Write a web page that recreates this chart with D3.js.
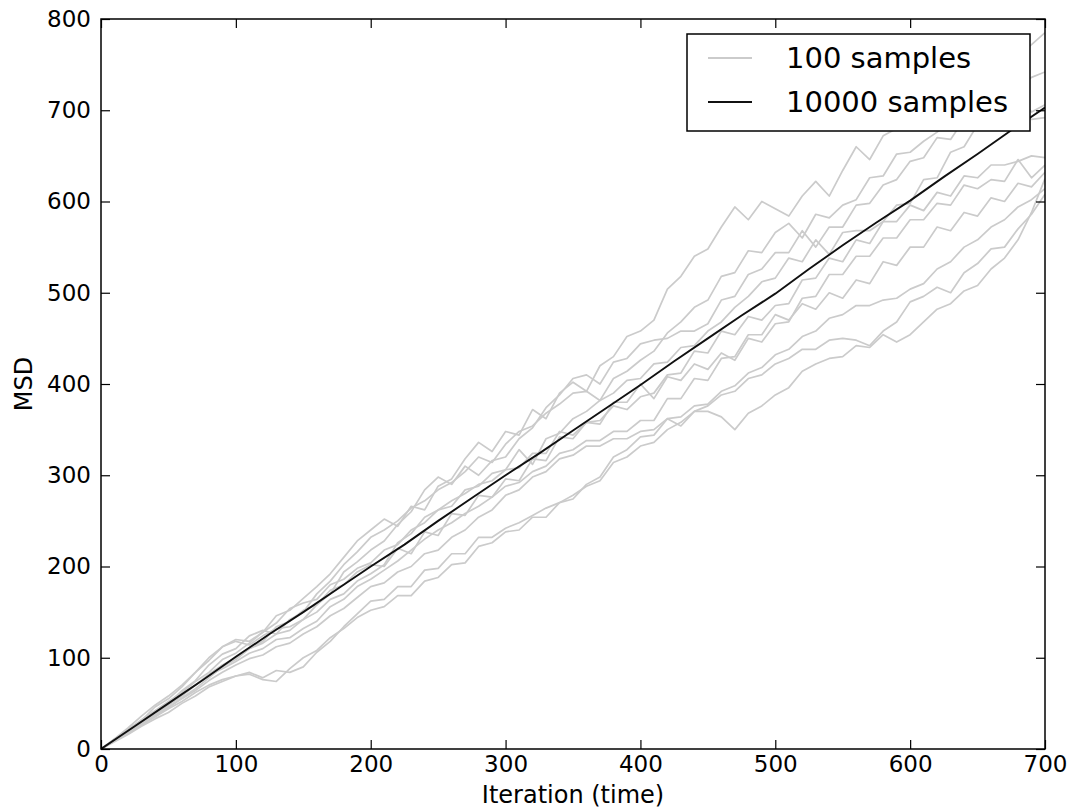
<!DOCTYPE html>
<html lang="en">
<head>
  <meta charset="UTF-8">
  <title>MSD vs iteration</title>
  <script src="https://d3js.org/d3.v7.min.js"></script>
  <style>
    body {
      margin: 0;
      background: #fff;
    }
    svg {
      display: block;
      font-family: "DejaVu Sans", sans-serif;
    }
  </style>
</head>
<body>
  <script>
    const width = 1070;
    const height = 810;

    // tick labels
    const xTicks = [0, 100, 200, 300, 400, 500, 600, 700];
    const yTicks = [0, 100, 200, 300, 400, 500, 600, 700, 800];

    // mean over 10000 samples, read every 25 iterations
    const meanIter = [0, 25, 50, 75, 100, 125, 150, 175, 200, 225, 250, 275, 300, 325, 350,
      375, 400, 425, 450, 475, 500, 525, 550, 575, 600, 625, 650, 675, 700];
    const meanMSD = [0, 25, 50, 75, 101, 126, 150, 175, 200, 224, 250, 275, 300, 324, 349,
      374, 399, 425, 450, 475, 499, 526, 552, 577, 601, 627, 652, 678, 703];

    // the gray runs (100 samples each), read every 10 iterations, 0..700
    const runStep = 10;
    const run1 = [0, 9, 22, 31, 46, 55, 68, 84, 97, 112,
      120, 118, 128, 146, 152, 165, 178, 192, 210, 228,
      240, 252, 244, 266, 262, 288, 296, 318, 336, 326,
      348, 344, 372, 362, 390, 402, 392, 420, 430, 452,
      458, 470, 504, 518, 540, 548, 572, 594, 580, 600,
      592, 584, 606, 622, 606, 634, 660, 646, 672, 680,
      694, 708, 696, 718, 720, 734, 744, 736, 760, 772,
      785];
    const run2 = [0, 10, 19, 30, 41, 50, 64, 75, 92, 104,
      110, 124, 130, 126, 142, 150, 170, 184, 202, 216,
      232, 240, 250, 264, 272, 284, 292, 304, 320, 314,
      334, 348, 354, 368, 378, 390, 392, 382, 406, 414,
      426, 436, 456, 468, 484, 492, 518, 522, 546, 544,
      566, 576, 560, 586, 582, 596, 602, 626, 628, 652,
      654, 666, 676, 688, 690, 704, 710, 718, 724, 736,
      742];
    const run3 = [0, 11, 23, 36, 48, 58, 70, 84, 100, 112,
      118, 114, 124, 132, 134, 142, 158, 170, 194, 205,
      218, 228, 246, 260, 284, 298, 290, 310, 300, 316,
      320, 340, 352, 374, 388, 406, 410, 400, 424, 428,
      444, 448, 450, 458, 458, 466, 492, 496, 520, 526,
      544, 544, 568, 550, 572, 572, 596, 598, 618, 624,
      644, 648, 670, 668, 690, 686, 688, 694, 718, 698,
      706];
    const run4 = [0, 10, 21, 32, 42, 52, 62, 74, 84, 98,
      105, 116, 128, 138, 154, 160, 164, 180, 186, 198,
      204, 218, 224, 240, 248, 262, 266, 284, 288, 302,
      306, 328, 312, 340, 346, 362, 370, 382, 390, 404,
      406, 422, 424, 440, 442, 458, 468, 484, 496, 512,
      516, 538, 534, 558, 542, 566, 568, 568, 578, 596,
      598, 624, 626, 654, 660, 684, 686, 694, 698, 690,
      692];
    const run5 = [0, 9, 19, 29, 38, 48, 58, 70, 82, 92,
      100, 110, 116, 126, 130, 142, 150, 164, 170, 184,
      192, 202, 226, 236, 254, 262, 272, 280, 290, 294,
      306, 308, 324, 324, 348, 344, 358, 360, 376, 372,
      386, 390, 410, 412, 436, 434, 458, 454, 474, 470,
      486, 488, 514, 516, 538, 534, 558, 554, 578, 578,
      596, 590, 610, 606, 628, 626, 640, 640, 644, 650,
      648];
    const run6 = [0, 10, 20, 28, 36, 45, 56, 66, 78, 90,
      98, 110, 118, 134, 140, 152, 158, 174, 180, 194,
      202, 200, 220, 214, 238, 234, 258, 256, 278, 276,
      296, 294, 318, 316, 342, 340, 358, 356, 380, 380,
      400, 384, 408, 404, 422, 416, 434, 426, 450, 446,
      466, 468, 494, 496, 520, 520, 540, 540, 560, 560,
      580, 580, 598, 596, 618, 614, 624, 622, 646, 626,
      640];
    const run7 = [0, 11, 20, 30, 40, 50, 61, 70, 81, 88,
      96, 105, 110, 120, 122, 132, 140, 156, 164, 178,
      186, 196, 206, 218, 230, 240, 248, 258, 266, 276,
      288, 292, 304, 310, 324, 328, 338, 338, 348, 348,
      360, 360, 384, 384, 406, 404, 428, 430, 454, 454,
      476, 470, 488, 482, 500, 494, 514, 510, 534, 530,
      550, 550, 572, 568, 588, 584, 604, 600, 620, 616,
      632];
    const run8 = [0, 9, 18, 27, 37, 46, 55, 64, 75, 84,
      92, 99, 103, 112, 116, 126, 134, 146, 154, 166,
      178, 182, 194, 200, 214, 218, 232, 240, 254, 262,
      278, 284, 298, 304, 318, 322, 332, 332, 340, 340,
      348, 350, 362, 364, 376, 378, 392, 398, 412, 418,
      432, 438, 452, 458, 472, 476, 486, 486, 492, 494,
      504, 510, 526, 534, 550, 558, 572, 580, 594, 602,
      614];
    const run9 = [0, 8, 16, 25, 33, 40, 50, 58, 68, 74,
      80, 84, 78, 86, 84, 90, 106, 118, 134, 148,
      162, 164, 178, 178, 196, 198, 214, 214, 232, 232,
      242, 248, 256, 264, 270, 274, 290, 298, 320, 328,
      342, 344, 362, 354, 370, 370, 364, 350, 368, 376,
      388, 396, 414, 422, 428, 430, 442, 440, 454, 446,
      454, 468, 482, 488, 502, 508, 526, 538, 558, 588,
      625];
    const run10 = [0, 9, 17, 26, 35, 44, 52, 62, 70, 76,
      80, 82, 76, 74, 88, 100, 108, 122, 132, 144,
      152, 156, 168, 168, 184, 188, 202, 204, 222, 226,
      238, 240, 254, 254, 270, 278, 288, 294, 314, 320,
      332, 336, 350, 358, 370, 376, 388, 392, 406, 410,
      422, 428, 438, 438, 448, 450, 448, 442, 458, 468,
      490, 496, 506, 500, 522, 532, 548, 550, 570, 586,
      608];
    const runs = [run1, run2, run3, run4, run5, run6, run7, run8, run9, run10];

    const legendLabels = ["100 samples", "10000 samples"];

    // plot box
    const plotLeft = 101, plotRight = 1045, plotTop = 19, plotBottom = 749;

    const svg = d3.select("body")
      .append("svg")
      .attr("width", width)
      .attr("height", height);

    const x = d3.scaleLinear().domain([0, 700]).range([plotLeft, plotRight]);
    const y = d3.scaleLinear().domain([0, 800]).range([plotBottom, plotTop]);

    svg.append("clipPath").attr("id", "plot")
      .append("rect")
      .attr("x", plotLeft).attr("y", plotTop)
      .attr("width", plotRight - plotLeft).attr("height", plotBottom - plotTop);

    const runLine = d3.line()
      .x((d, i) => x(i * runStep))
      .y(d => y(d));

    svg.append("g")
      .attr("clip-path", "url(#plot)")
      .selectAll("path")
      .data(runs)
      .enter().append("path")
      .attr("d", runLine)
      .attr("fill", "none")
      .attr("stroke", "#cbcbcb")
      .attr("stroke-width", 1.7)
      .attr("stroke-linejoin", "round");

    const meanLine = d3.line()
      .x((d, i) => x(meanIter[i]))
      .y(d => y(d));

    svg.append("path")
      .datum(meanMSD)
      .attr("clip-path", "url(#plot)")
      .attr("d", meanLine)
      .attr("fill", "none")
      .attr("stroke", "#111")
      .attr("stroke-width", 1.9);

    // axes, ticks pointing inward on all four sides
    const tickLen = 9;
    const styleAxis = g => {
      g.select(".domain").remove();
      g.selectAll("line").attr("stroke", "#000").attr("stroke-width", 1.2);
      g.selectAll("text")
        .attr("fill", "#000")
        .style("font-size", "23px")
        .style("font-family", "'DejaVu Sans', sans-serif");
    };

    svg.append("g")
      .attr("transform", `translate(0,${plotBottom})`)
      .call(d3.axisBottom(x).tickValues(xTicks).tickSize(-tickLen).tickPadding(7))
      .call(styleAxis);

    svg.append("g")
      .attr("transform", `translate(0,${plotTop})`)
      .call(d3.axisTop(x).tickValues(xTicks).tickSize(-tickLen).tickFormat(""))
      .call(styleAxis);

    svg.append("g")
      .attr("transform", `translate(${plotLeft},0)`)
      .call(d3.axisLeft(y).tickValues(yTicks).tickSize(-tickLen).tickPadding(10))
      .call(styleAxis);

    svg.append("g")
      .attr("transform", `translate(${plotRight},0)`)
      .call(d3.axisRight(y).tickValues(yTicks).tickSize(-tickLen).tickFormat(""))
      .call(styleAxis);

    svg.append("rect")
      .attr("x", plotLeft).attr("y", plotTop)
      .attr("width", plotRight - plotLeft).attr("height", plotBottom - plotTop)
      .attr("fill", "none")
      .attr("stroke", "#000")
      .attr("stroke-width", 1.5);

    // axis titles
    svg.append("text")
      .attr("x", (plotLeft + plotRight) / 2)
      .attr("y", 803)
      .attr("text-anchor", "middle")
      .style("font-size", "24px")
      .text("Iteration (time)");

    svg.append("text")
      .attr("transform", `translate(32,${(plotTop + plotBottom) / 2}) rotate(-90)`)
      .attr("text-anchor", "middle")
      .style("font-size", "24px")
      .text("MSD");

    // legend
    const legend = svg.append("g");
    legend.append("rect")
      .attr("x", 687).attr("y", 34)
      .attr("width", 343).attr("height", 97)
      .attr("fill", "#fff")
      .attr("stroke", "#000")
      .attr("stroke-width", 1.5);

    const legendColors = ["#cbcbcb", "#111"];
    legendLabels.forEach((label, i) => {
      const ly = 58 + i * 44;
      legend.append("line")
        .attr("x1", 708).attr("x2", 752)
        .attr("y1", ly).attr("y2", ly)
        .attr("stroke", legendColors[i])
        .attr("stroke-width", 1.8);
      legend.append("text")
        .attr("x", 786)
        .attr("y", ly)
        .attr("dy", "0.36em")
        .style("font-size", "29px")
        .text(label);
    });
  </script>
</body>
</html>
